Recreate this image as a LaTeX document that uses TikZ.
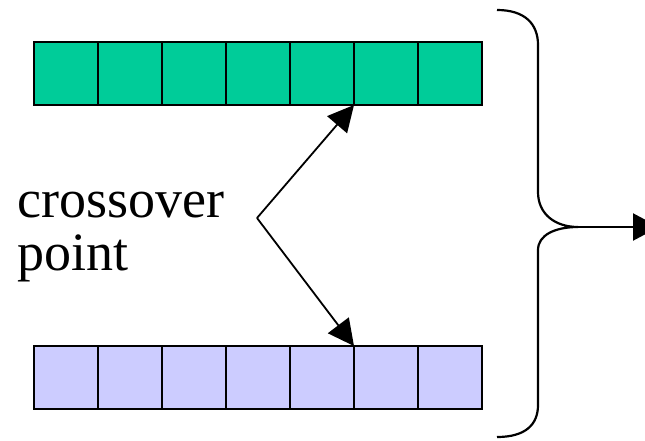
\documentclass[tikz,border=0pt]{standalone}
\usepackage{fontspec}
\setmainfont{Liberation Serif}
\usetikzlibrary{arrows.meta}
\definecolor{cellgreen}{HTML}{00CC99}
\definecolor{celllav}{HTML}{CCCCFF}
\tikzset{
  cellbox/.style={draw=black, line width=2.2pt, minimum width=64pt, minimum height=63pt, inner sep=0pt, outer sep=0pt},
  topcell/.style={cellbox, fill=cellgreen},
  botcell/.style={cellbox, fill=celllav},
  pointer/.style={line width=1.8pt, -{Triangle[length=26pt,width=26pt]}},
  bracepath/.style={line width=2.2pt},
  label/.style={font=\fontsize{54pt}{53pt}\selectfont, align=left, inner sep=0pt, anchor=base west}
}
\begin{document}
\begin{tikzpicture}[x=1pt,y=-1pt]
\useasboundingbox (0,0) rectangle (645,441);
\foreach \i in {0,...,6} {
  \node[topcell] (a\i) at ({66+64*\i},73.5) {};
  \node[botcell] (b\i) at ({66+64*\i},377.5) {};
}
\node[label] (lbl) at (17,270) {crossover\\point};
\coordinate (v) at (257,218);
\draw[pointer] (v) -- (a5.south west);
\draw[pointer] (v) -- (b5.north west);
\coordinate (btop) at (497,10);
\coordinate (bbot) at (497,437);
\coordinate (btip) at (578,227);
\coordinate (out) at (659,227);
\draw[bracepath] (btop) .. controls (525,10) and (538,24) .. (538,45) -- (538,192)
  .. controls (538,214) and (555,227) .. (btip)
  .. controls (555,227) and (538,235) .. (538,250) -- (538,405)
  .. controls (538,425) and (525,437) .. (bbot);
\draw[bracepath, -{Triangle[length=26pt,width=27pt]}] (btip) -- (out);
\end{tikzpicture}
\end{document}
